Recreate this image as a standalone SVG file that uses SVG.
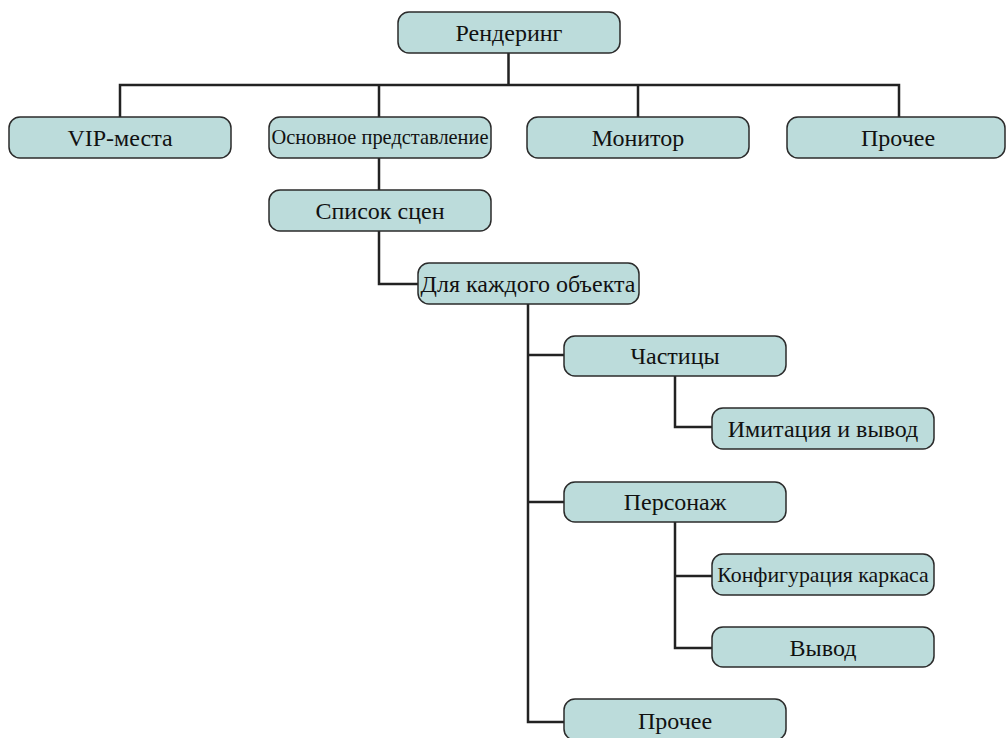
<svg xmlns="http://www.w3.org/2000/svg" width="1006" height="738" viewBox="0 0 1006 738">
<style>
.box{fill:#bcdcdb;stroke:#2b2b2b;stroke-width:1.5}
text{font-family:'Liberation Serif','DejaVu Serif',serif;font-size:24px;fill:#111;text-anchor:middle}
.s{font-size:20.4px}
.k{font-size:21.8px}
.c{fill:none;stroke:#222;stroke-width:2.5}
</style>
<rect width="1006" height="738" fill="#fff"/>
<g id="connectors">
<path class="c" d="M508.5 53V85M120 117V85H899V117M379 85V117M638 85V117"/>
<path class="c" d="M379 158V190"/>
<path class="c" d="M379 231V284H418"/>
<path class="c" d="M528 304V722H564M528 355H564M528 502H564"/>
<path class="c" d="M675 376V427H712"/>
<path class="c" d="M675 522V648H712M675 576H712"/>
</g>
<g id="n-render"><rect class="box" x="398" y="12" width="222" height="41" rx="11"/><text x="509" y="41">Рендеринг</text></g>
<g id="n-vip"><rect class="box" x="9" y="117" width="222" height="41" rx="11"/><text x="120" y="146">VIP-места</text></g>
<g id="n-main"><rect class="box" x="269" y="117" width="222" height="41" rx="11"/><text class="s" x="380" y="144">Основное представление</text></g>
<g id="n-monitor"><rect class="box" x="527" y="117" width="222" height="41" rx="11"/><text x="638" y="146">Монитор</text></g>
<g id="n-other1"><rect class="box" x="787" y="117" width="218" height="41" rx="11"/><text x="898" y="146">Прочее</text></g>
<g id="n-scenes"><rect class="box" x="269" y="190" width="222" height="41" rx="11"/><text x="380" y="219">Список сцен</text></g>
<g id="n-each"><rect class="box" x="418" y="263" width="221" height="41" rx="11"/><text x="528" y="292">Для каждого объекта</text></g>
<g id="n-particles"><rect class="box" x="564" y="336" width="222" height="40" rx="11"/><text x="675" y="364">Частицы</text></g>
<g id="n-sim"><rect class="box" x="712" y="408" width="222" height="41" rx="11"/><text x="823" y="437">Имитация и вывод</text></g>
<g id="n-char"><rect class="box" x="564" y="482" width="222" height="40" rx="11"/><text x="675" y="510">Персонаж</text></g>
<g id="n-skel"><rect class="box" x="712" y="554" width="222" height="41" rx="11"/><text class="k" x="823" y="582">Конфигурация каркаса</text></g>
<g id="n-out"><rect class="box" x="712" y="627" width="222" height="40" rx="11"/><text x="823" y="656">Вывод</text></g>
<g id="n-other2"><rect class="box" x="564" y="699" width="222" height="41" rx="11"/><text x="675" y="729">Прочее</text></g>
</svg>
